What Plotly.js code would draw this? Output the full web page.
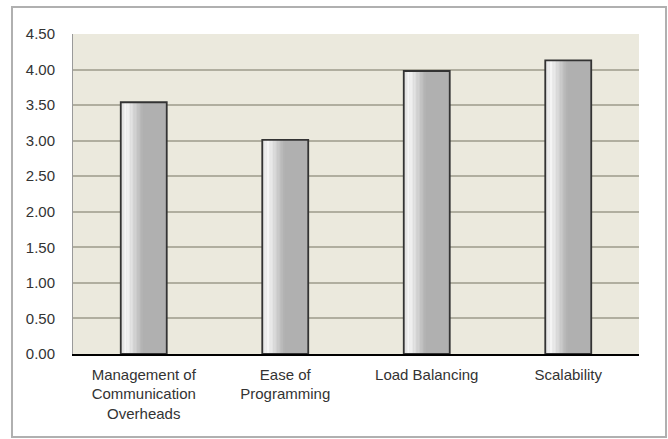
<!DOCTYPE html>
<html><head><meta charset="utf-8">
<script src="https://cdn.plot.ly/plotly-3.0.1.min.js"></script>
<style>html,body{margin:0;padding:0;background:#fff}#chart{width:668px;height:439px}</style>
</head><body><div id="chart"></div>
<script>
const categories = ["Management of<br>Communication<br>Overheads", "Ease of<br>Programming", "Load Balancing", "Scalability"];
const values = [3.54, 3.01, 3.98, 4.13];
const yTicks = [0, 0.5, 1, 1.5, 2, 2.5, 3, 3.5, 4, 4.5];

const barW = 0.325;
const traces = [];
traces.push({type:'bar', x:categories, y:values, width:barW, marker:{color:'#b0b0b0', line:{width:0}}, hoverinfo:'skip'});
// gradient strips: slightly grey edge -> bright highlight -> grey body
const N = 16, gradFrac = 0.48;
function shade(t){
  if (t < 0.25) return 222 + (248 - 222) * (t / 0.25);
  return 248 + (176 - 248) * ((t - 0.25) / 0.75);
}
for (let i = 0; i < N; i++) {
  const t = (i + 0.5) / N;
  const c = Math.round(shade(t));
  traces.push({type:'bar', x:categories, y:values, width:barW*gradFrac/N + 0.002, offset:-barW/2 + barW*gradFrac*i/N,
    marker:{color:`rgb(${c},${c},${c})`, line:{width:0}}, hoverinfo:'skip'});
}
traces.push({type:'bar', x:categories, y:values, width:barW, marker:{color:'rgba(0,0,0,0)', line:{color:'#333333', width:1.8}}, hoverinfo:'skip'});

const layout = {
  width:668, height:439,
  margin:{l:73, r:29, t:34, b:85},
  paper_bgcolor:'#ffffff', plot_bgcolor:'#ebe9dd',
  barmode:'overlay', showlegend:false,
  font:{family:'Liberation Sans, Arial, sans-serif', size:15, color:'#333'},
  xaxis:{type:'category', showgrid:false, showline:true, linecolor:'#000', linewidth:1.5, ticks:'', ticklabelstandoff:6, tickfont:{size:15, color:'#333'}},
  yaxis:{range:[0,4.5], tickvals:yTicks, tickformat:'.2f', showgrid:true, gridcolor:'#b0ae9f', gridwidth:2,
         zeroline:false, showline:true, linecolor:'#9a9a9a', linewidth:1, ticks:'', ticklabelstandoff:14, tickfont:{size:15, color:'#333'}},
  shapes:[{type:'rect', xref:'paper', yref:'paper', x0:-0.1078, x1:1.0477, y0:-0.259, y1:1.084, line:{color:'#b0b0b0', width:2}, fillcolor:'rgba(0,0,0,0)', layer:'below'}]
};
Plotly.newPlot('chart', traces, layout, {displayModeBar:false, staticPlot:true});
</script></body></html>
